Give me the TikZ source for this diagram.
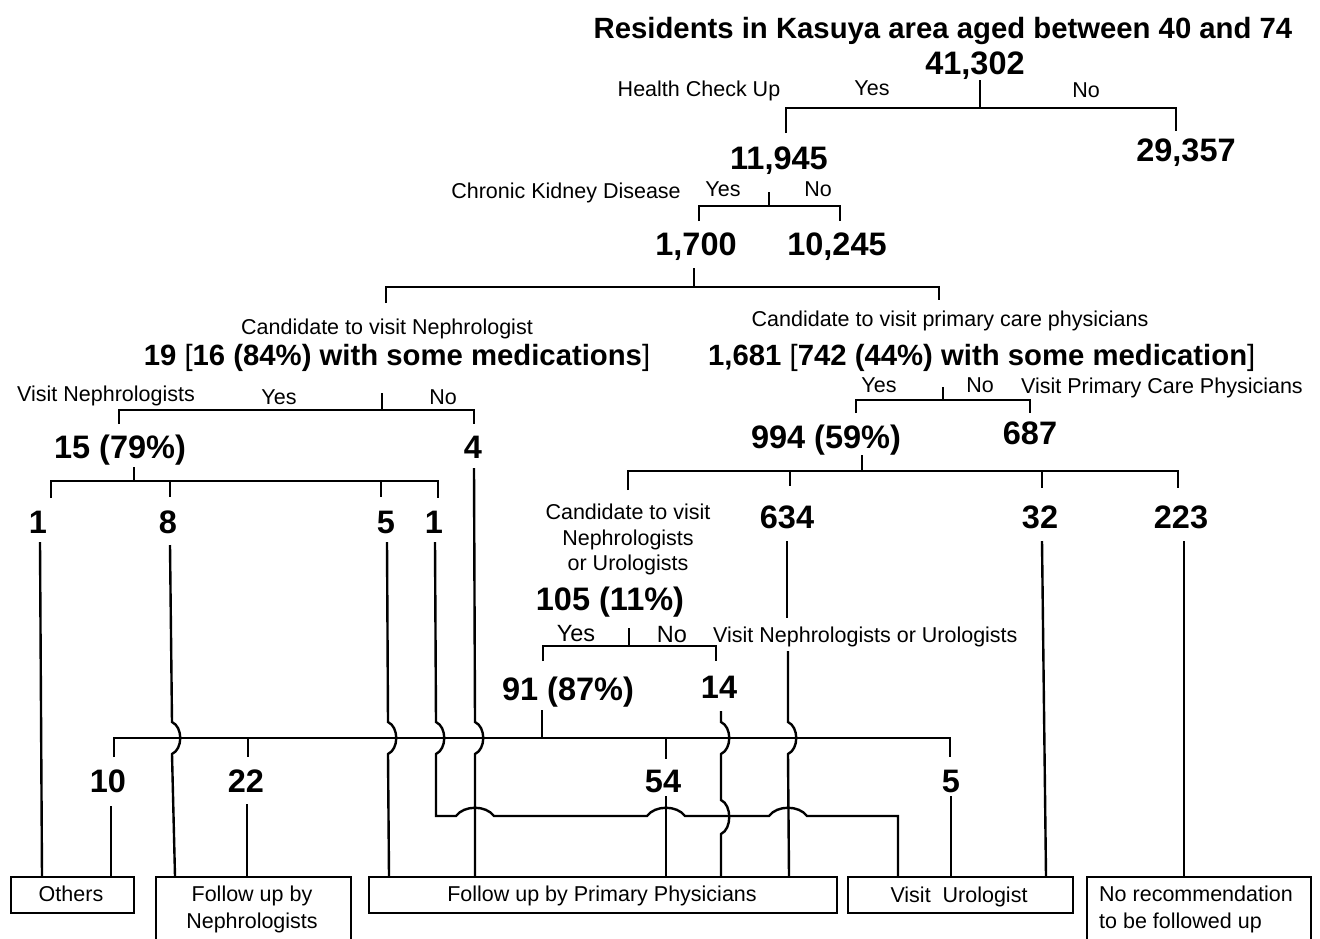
\documentclass[tikz,border=0pt]{standalone}
\usepackage{fontspec}
\setmainfont{Liberation Sans}
\tikzset{
  lbl/.style={inner sep=0pt, anchor=base, font=\fontsize{21.5}{25.5}\selectfont},
  lblb/.style={inner sep=0pt, anchor=base, font=\fontsize{23.5}{27}\selectfont},
  num/.style={inner sep=0pt, anchor=base, font=\fontsize{32.5}{36}\selectfont\bfseries},
  bigtxt/.style={inner sep=0pt, anchor=base, font=\fontsize{29.3}{33}\selectfont\bfseries},
  ln/.style={line width=2.4pt, line join=miter},
  box/.style={draw, line width=2pt, anchor=north west, minimum height=36pt, inner sep=0pt}
}
\begin{document}
\begin{tikzpicture}[x=1pt,y=-1pt]
\useasboundingbox (0,0) rectangle (1320,938);
% ---------- texts ----------
\node[bigtxt] (title) at (943,38) {Residents in Kasuya area aged between 40 and 74};
\node[num] (n41302) at (975,74) {41,302};
\node[lbl] (hcu) at (699,96) {Health Check Up};
\node[lbl] (y1) at (872,95) {Yes};
\node[lbl] (no1) at (1086,97) {No};
\node[num] (n11945) at (779,169) {11,945};
\node[num] (n29357) at (1186,161) {29,357};
\node[lbl] (ckd) at (566,198) {Chronic Kidney Disease};
\node[lbl] (y2) at (723,196) {Yes};
\node[lbl] (no2) at (818,196) {No};
\node[num] (n1700) at (696,255) {1,700};
\node[num] (n10245) at (837,255) {10,245};
\node[lbl] (cneph) at (387,334) {Candidate to visit Nephrologist};
\node[lbl] (cprim) at (950,326) {Candidate to visit primary care physicians};
\node[bigtxt] (n19) at (397,365) {19 {\mdseries[}16 (84\%) with some medications{\mdseries]}};
\node[bigtxt, anchor=base west] (n1681) at (708,365) {1,681 {\mdseries[}742 (44\%) with some medication{\mdseries]}};
\node[lbl, anchor=base west] (vneph) at (17,401) {Visit Nephrologists};
\node[lbl] (y4) at (279,404) {Yes};
\node[lbl] (no4) at (443,404) {No};
\node[lbl] (y6) at (879,392) {Yes};
\node[lbl] (no6) at (980,392) {No};
\node[lbl, anchor=base west] (vprim) at (1021,393) {Visit Primary Care Physicians};
\node[num] (n15) at (120,458) {15 (79\%)};
\node[num] (n4) at (473,458) {4};
\node[num] (n994) at (826,448) {994 (59\%)};
\node[num] (n687) at (1030,444) {687};
\node[num] (n1a) at (38,533) {1};
\node[num] (n8) at (168,533) {8};
\node[num] (n5a) at (386,533) {5};
\node[num] (n1b) at (434,533) {1};
\node[lbl] (cnu1) at (628,519) {Candidate to visit};
\node[lbl] (cnu2) at (628,545) {Nephrologists};
\node[lbl] (cnu3) at (628,570) {or Urologists};
\node[num] (n634) at (787,528) {634};
\node[num] (n32) at (1040,528) {32};
\node[num] (n223) at (1181,528) {223};
\node[num] (n105) at (610,610) {105 (11\%)};
\node[lblb] (y8) at (576,641) {Yes};
\node[lblb] (no8) at (672,642) {No};
\node[lbl, anchor=base west] (vnu) at (713,642) {Visit Nephrologists or Urologists};
\node[num] (n91) at (568,700) {91 (87\%)};
\node[num] (n14) at (719,698) {14};
\node[num] (n10) at (108,792) {10};
\node[num] (n22) at (246,792) {22};
\node[num] (n54) at (663,792) {54};
\node[num] (n5b) at (951,792) {5};
% ---------- boxes ----------
\node[box, minimum width=123pt] (bOth) at (10,876) {};
\node[box, minimum width=195pt, minimum height=80pt] (bNeph) at (155,876) {};
\node[box, minimum width=468pt] (bPrim) at (368,876) {};
\node[box, minimum width=225pt] (bUro) at (847,876) {};
\node[box, minimum width=224pt, minimum height=80pt] (bNone) at (1086,876) {};
\node[lbl] (tOth) at (71,901.5) {Others};
\node[lbl] (tNeph1) at (252,901) {Follow up by};
\node[lbl] (tNeph2) at (252,928) {Nephrologists};
\node[lbl] (tPrim) at (602,901.5) {Follow up by Primary Physicians};
\node[lbl] (tUro) at (959,902) {Visit\ \ Urologist};
\node[lbl, anchor=base west] (tNone1) at (1099,901) {No recommendation};
\node[lbl, anchor=base west] (tNone2) at (1099,928) {to be followed up};
% ---------- tree brackets ----------
\draw[ln] (980,80) -- (980,108);
\draw[ln] (786,133) -- (786,108) -- (1176,108) -- (1176,131);
\draw[ln] (769,192) -- (769,206);
\draw[ln] (699,221) -- (699,206) -- (840,206) -- (840,221);
\draw[ln] (694,268) -- (694,287);
\draw[ln] (386,303) -- (386,287) -- (939,287) -- (939,300);
\draw[ln] (382,393) -- (382,410);
\draw[ln] (119,424) -- (119,410) -- (474,410) -- (474,424);
\draw[ln] (134,467) -- (134,481);
\draw[ln] (51,498) -- (51,481) -- (438,481) -- (438,498);
\draw[ln] (170,481) -- (170,497);
\draw[ln] (381,481) -- (381,497);
\draw[ln] (943,387) -- (943,400);
\draw[ln] (856,413) -- (856,400) -- (1030,400) -- (1030,413);
\draw[ln] (862,455) -- (862,471);
\draw[ln] (628,490) -- (628,471) -- (1178,471) -- (1178,488);
\draw[ln] (790,471) -- (790,486);
\draw[ln] (1042,471) -- (1042,488);
\draw[ln] (629,628) -- (629,646);
\draw[ln] (543,661) -- (543,646) -- (716,646) -- (716,661);
% ---------- main horizontal ----------
\draw[ln] (114,757) -- (114,738) -- (950,738) -- (950,757);
\draw[ln] (248,738) -- (248,757);
\draw[ln] (666,738) -- (666,759);
\draw[ln] (542,710) -- (542,738);
% ---------- connectors to boxes ----------
\draw[ln] (40,542) -- (42,876);
\draw[ln] (170,545) -- (172,722) .. controls (183,727) and (183,749) .. (172,754) -- (175,876);
\draw[ln] (387,542) -- (388,722) .. controls (399,727) and (399,749) .. (388,754) -- (389,876);
\draw[ln] (435,542) -- (436,722) .. controls (447,727) and (447,749) .. (436,754) -- (436,816) -- (456,816)
  .. controls (464,805) and (486,805) .. (494,816) -- (647,816)
  .. controls (655,805) and (677,805) .. (685,816) -- (769,816)
  .. controls (777,805) and (799,805) .. (807,816) -- (898,816) -- (898,876);
\draw[ln] (474,468) -- (475,722) .. controls (486,727) and (486,749) .. (475,754) -- (475,876);
\draw[ln] (721,711) -- (721,722) .. controls (732,727) and (732,749) .. (721,754) -- (721,800)
  .. controls (732,805) and (732,829) .. (721,834) -- (721,876);
\draw[ln] (787,541) -- (787,618);
\draw[ln] (788,651) -- (788,722) .. controls (799,727) and (799,749) .. (788,754) -- (789,876);
\draw[ln] (1042,541) -- (1046,876);
\draw[ln] (1184,541) -- (1184,876);
\draw[ln] (111,806) -- (111,876);
\draw[ln] (247,804) -- (247,876);
\draw[ln] (666,796) -- (666,876);
\draw[ln] (951,796) -- (951,876);
\end{tikzpicture}
\end{document}
